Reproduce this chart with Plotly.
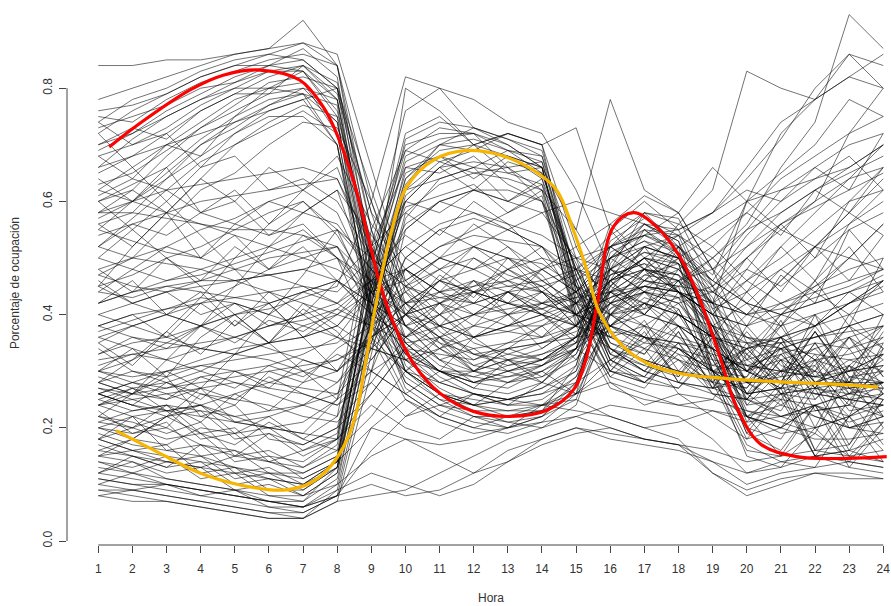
import plotly.graph_objects as go

hours = list(range(1, 25))

# Occupancy profiles (percent), one row per unit
cluster_a = [
    [70,72,76,79,82,84,85,80,45,30,25,22,22,23,28,45,52,44,32,22,15,19,15,21],
    [62,66,70,74,78,80,81,72,40,28,24,23,21,22,27,40,47,49,30,20,26,15,22,16],
    [75,74,78,81,83,85,86,84,50,32,27,24,25,26,30,50,55,50,38,22,20,28,17,25],
    [55,60,65,70,74,77,79,70,42,33,30,27,26,28,33,44,40,46,35,25,32,20,22,34],
    [68,70,73,77,80,83,83,75,38,26,22,20,19,21,26,48,58,52,30,15,13,20,14,13],
    [84,84,85,85,86,87,88,84,55,35,30,28,29,31,35,52,56,53,40,28,36,25,31,28],
    [58,62,68,73,76,79,80,78,48,30,26,25,24,24,29,38,44,42,34,20,18,27,16,18],
    [72,76,79,82,84,86,85,80,52,38,32,28,27,30,34,55,60,55,42,24,30,16,25,17],
    [50,55,60,66,72,76,78,70,36,25,21,19,20,22,25,41,46,45,28,16,15,24,13,20],
    [65,68,72,76,79,82,84,78,44,30,26,24,22,23,31,50,53,49,33,19,27,15,16,25],
    [78,80,82,84,86,87,92,84,60,42,35,30,28,31,36,53,57,54,41,30,27,35,26,28],
    [45,52,58,64,70,73,76,72,40,32,28,26,25,27,30,42,48,47,36,22,19,20,31,22],
    [60,63,66,71,75,78,79,74,46,34,29,26,24,25,29,44,52,50,37,21,28,16,17,27],
    [73,75,77,80,81,83,84,79,58,40,34,30,29,30,33,47,51,50,39,25,23,32,20,22],
    [66,71,75,78,80,80,79,77,42,27,23,21,20,22,28,46,55,51,29,17,14,13,22,14],
    [52,57,62,67,70,74,77,75,53,36,31,29,28,29,32,43,47,46,38,26,34,23,24,35],
    [76,77,79,82,84,84,83,78,49,31,26,23,23,24,27,49,56,53,34,19,16,24,15,16],
    [63,65,69,73,77,81,82,80,62,45,38,33,31,32,36,52,58,57,45,32,28,37,28,40],
    [57,60,64,68,72,75,75,70,39,29,25,24,23,23,26,38,43,41,30,18,25,15,14,21],
    [69,72,75,78,81,84,87,82,47,33,28,26,25,27,31,51,54,51,36,23,21,19,29,20],
    [61,64,70,68,75,80,83,76,50,38,32,34,30,28,34,47,49,44,36,26,22,24,21,23],
    [70,73,71,76,79,79,84,81,55,41,36,31,33,35,38,56,61,58,48,35,30,38,30,33],
    [47,50,56,62,65,70,74,73,60,44,37,33,32,31,34,45,50,49,42,33,29,30,40,34],
    [74,78,80,83,85,86,88,86,66,46,40,35,33,32,35,48,52,50,43,31,26,22,20,21],
    [56,58,64,70,73,77,80,74,43,28,24,22,21,20,24,40,45,43,32,22,20,18,18,19],
]

cluster_b = [
    [20,22,16,17,12,13,10,14,45,65,68,66,69,68,45,32,36,29,38,28,33,27,36,27],
    [25,23,24,19,20,15,14,18,50,70,72,72,70,66,42,30,29,37,27,34,28,40,27,25],
    [15,14,12,13,9,10,8,12,40,60,66,62,67,65,48,35,33,41,30,29,39,28,28,37],
    [28,26,29,22,24,18,17,20,42,62,64,66,60,63,40,29,34,26,25,33,26,25,31,26],
    [12,11,10,8,9,6,6,10,38,63,70,73,71,68,50,33,31,38,29,27,35,28,27,22],
    [22,21,19,21,15,16,13,17,48,72,75,70,72,70,44,31,38,28,36,28,29,37,29,30],
    [18,16,17,12,13,9,9,13,46,68,71,72,66,67,47,34,30,35,28,38,31,29,36,29],
    [30,28,26,27,21,22,18,22,52,66,68,64,68,64,41,30,28,33,27,25,32,26,25,31],
    [9,9,8,7,6,5,4,9,35,58,63,65,64,62,46,32,29,27,33,24,25,31,23,24],
    [24,22,23,18,19,14,13,16,44,64,69,70,65,66,43,33,39,30,29,37,30,31,38,29],
    [14,13,15,11,12,8,7,11,37,61,66,67,66,60,49,36,33,40,31,30,38,29,31,36],
    [27,25,23,24,19,20,16,19,47,67,70,71,69,67,45,31,28,27,34,26,27,35,27,28],
    [17,15,13,14,10,11,8,12,41,80,76,70,68,66,42,30,37,28,27,35,26,27,34,26],
    [20,19,21,15,16,12,12,15,43,59,61,63,58,61,39,29,27,34,28,27,35,28,30,38],
    [11,10,9,8,7,6,5,8,33,57,64,66,65,63,48,35,32,30,37,26,27,33,25,24],
    [26,24,22,23,18,19,15,18,49,69,73,72,69,65,46,32,29,35,26,25,33,27,28,34],
    [16,15,14,15,11,12,9,13,39,62,67,69,68,66,44,34,31,29,36,28,28,37,29,28],
    [21,20,18,19,14,15,11,14,45,71,74,73,71,69,47,33,30,37,27,29,36,27,26,33],
    [23,19,20,17,16,14,12,15,44,60,58,62,60,64,48,38,36,33,31,34,36,32,30,33],
    [12,14,11,10,9,7,7,13,42,66,65,68,63,60,40,28,26,24,23,21,22,23,24,22],
    [29,27,23,24,21,20,19,25,55,69,67,65,66,62,38,27,25,24,25,23,22,24,26,25],
    [19,17,16,15,13,11,10,13,40,64,70,69,72,70,52,40,36,34,32,31,33,35,34,36],
    [8,7,7,6,5,4,4,7,30,55,60,62,62,60,45,34,30,28,26,25,26,27,25,26],
]

cluster_c = [
    [35,38,40,42,45,48,50,52,40,45,48,50,47,45,40,38,42,45,50,55,58,62,65,68],
    [28,30,29,31,30,28,27,26,38,50,55,52,48,45,40,45,50,48,42,60,65,70,78,75],
    [45,47,50,52,55,58,60,55,42,38,40,42,44,41,38,48,52,50,45,50,55,60,72,80],
    [40,38,36,34,33,32,30,28,36,42,44,45,46,44,40,43,45,44,40,38,42,45,48,50],
    [55,53,51,50,48,47,45,42,38,35,36,38,37,36,40,46,48,46,42,46,50,55,60,62],
    [30,32,35,38,40,42,44,46,42,38,35,33,34,35,37,42,44,43,38,35,36,38,40,42],
    [48,50,52,55,57,60,62,58,45,55,60,58,55,52,45,42,44,46,48,55,62,66,70,72],
    [25,27,28,30,33,35,38,40,44,35,30,28,30,32,34,40,42,40,36,30,32,34,36,38],
    [62,60,58,56,54,52,50,48,44,40,38,36,38,40,42,44,46,45,44,50,56,60,64,66],
    [38,36,35,34,36,38,40,42,46,52,48,44,42,40,38,36,38,42,44,48,45,50,55,58],
    [8,9,10,9,8,7,6,8,20,25,22,20,22,24,25,22,20,21,23,22,24,22,20,19],
    [13,12,11,10,9,8,8,10,15,18,17,18,20,21,22,20,18,17,16,14,15,16,15,14],
    [24,25,26,24,22,20,21,25,38,30,28,30,32,33,35,38,40,38,30,25,22,20,22,24],
    [32,33,34,35,36,38,39,41,46,48,44,42,40,41,43,47,49,47,41,44,48,52,56,60],
    [42,44,46,48,50,52,55,50,36,30,34,38,40,42,44,50,53,51,46,42,40,38,42,46],
    [18,20,22,24,26,28,30,32,35,30,26,24,25,26,28,32,35,34,30,26,27,28,30,31],
    [58,58,57,56,55,55,54,52,46,42,43,44,45,46,48,52,54,52,47,60,72,78,82,86],
    [27,26,25,27,28,27,26,24,30,34,33,32,34,35,36,37,36,35,34,40,46,52,58,64],
    [34,30,28,26,25,24,22,21,28,36,40,44,42,40,38,34,32,30,28,34,40,45,50,56],
    [50,48,46,47,49,51,53,55,48,40,36,34,35,36,38,42,45,48,52,58,64,68,72,75],
    [44,43,45,44,43,42,44,46,40,36,38,40,42,41,44,50,52,54,58,62,60,64,66,70],
    [31,33,32,34,33,35,36,38,44,46,50,48,45,44,42,40,41,43,45,52,56,59,62,65],
    [52,50,49,48,46,44,42,40,38,42,46,48,50,49,45,40,38,36,34,30,28,26,25,24],
    [37,39,41,43,42,40,38,36,34,32,30,30,32,34,38,44,48,47,42,36,32,30,28,27],
    [21,23,24,23,22,23,24,26,32,40,44,46,44,42,40,38,36,35,33,31,30,29,28,28],
    [47,45,44,46,48,50,51,52,42,33,30,29,31,33,36,41,44,42,36,31,30,29,30,31],
    [26,24,23,22,21,20,19,18,26,34,38,40,41,42,43,44,45,44,42,40,41,43,45,48],
    [54,56,58,60,61,62,63,64,52,42,38,36,37,39,42,48,51,49,44,40,42,44,46,48],
]

cluster_d = [
    [22,26,32,38,45,52,58,62,45,35,30,28,30,32,36,44,48,46,38,28,25,24,26,27],
    [60,55,50,45,40,35,30,25,30,45,50,52,50,47,40,36,34,32,30,32,34,36,38,40],
    [28,32,37,43,50,56,62,66,50,38,34,31,30,31,34,46,50,48,40,30,27,26,27,28],
    [72,66,60,54,48,42,36,30,35,50,55,57,55,52,42,34,30,28,27,28,30,32,33,35],
    [15,18,22,27,33,40,47,55,50,45,42,40,38,38,40,43,45,44,40,36,34,33,32,33],
    [45,42,40,38,36,34,32,30,36,40,42,44,46,48,50,48,46,44,42,40,38,40,42,44],
    [26,28,27,29,30,31,33,36,44,56,60,62,60,58,50,42,40,38,36,35,34,36,38,40],
    [36,34,32,30,28,26,24,22,34,48,52,54,53,52,48,44,42,40,36,34,36,38,42,46],
]

cluster_n = [
    [30,34,29,36,40,35,42,38,45,40,47,43,50,44,38,46,41,52,45,38,47,42,55,48],
    [56,52,58,50,54,48,52,46,40,36,42,38,44,40,35,42,48,40,36,44,38,46,52,44],
    [18,22,20,26,24,30,28,34,38,32,36,30,34,38,32,40,36,44,38,32,40,46,38,50],
    [64,60,66,58,62,56,60,54,44,48,42,46,40,44,38,46,50,44,40,48,56,50,60,66],
    [26,24,28,25,30,27,32,30,36,42,38,44,40,36,42,46,40,48,42,50,44,52,46,54],
    [42,46,40,44,38,42,36,40,46,38,42,36,40,34,38,44,40,46,50,44,52,46,56,62],
    [12,15,13,17,15,19,17,20,26,34,30,36,32,28,34,30,36,32,28,22,26,30,24,28],
    [35,31,37,33,39,35,41,37,30,26,30,27,32,29,34,38,35,40,36,33,38,44,40,46],
    [74,70,72,66,68,62,64,60,50,40,36,32,35,38,42,50,46,52,44,40,46,52,58,54],
    [22,20,24,21,26,23,28,30,40,48,44,50,46,42,46,52,48,44,40,46,52,58,64,70],
    [48,44,50,46,52,48,54,50,44,36,32,30,34,32,36,40,44,38,34,30,36,32,38,34],
    [16,18,17,20,19,22,24,28,34,40,46,42,48,44,40,36,42,38,34,30,34,28,32,30],
    [38,40,36,42,38,44,40,46,52,58,54,60,56,50,44,38,42,36,30,34,28,32,26,30],
    [60,62,58,64,60,66,62,68,56,48,44,40,44,48,52,56,50,54,48,52,58,62,66,70],
    [28,26,30,27,25,29,26,24,28,22,26,24,28,30,26,32,28,34,30,26,30,34,28,32],
    [44,48,52,50,56,54,58,56,48,42,46,44,48,52,46,50,56,52,46,54,60,66,62,72],
    [20,18,22,19,17,21,18,16,22,30,36,40,44,40,36,42,38,34,30,28,24,28,22,26],
    [52,56,54,58,56,60,58,62,54,46,50,48,52,46,42,48,44,50,46,42,48,44,50,56],
    [33,36,34,38,35,39,37,41,38,44,40,46,42,48,44,52,48,56,52,46,42,38,44,40],
    [24,27,25,29,27,31,29,33,30,26,22,26,24,28,26,30,28,32,26,22,20,24,20,22],
    [68,64,62,58,60,54,56,50,42,36,40,36,38,42,40,46,50,44,38,42,36,40,34,38],
    [10,12,14,13,15,14,16,18,24,20,18,22,20,24,26,28,24,26,22,18,20,24,22,26],
    [46,42,44,40,42,38,40,36,32,40,46,52,50,46,42,38,34,38,34,30,34,30,36,32],
    [36,38,40,38,42,40,44,42,48,54,50,56,52,48,44,40,46,50,54,58,54,62,58,66],
]

cluster_peaks = [
    [33,35,36,38,40,41,43,45,60,82,80,73,70,66,55,45,42,40,38,36,35,36,37,38],
    [40,42,44,45,46,47,48,46,42,48,52,55,58,62,55,78,62,58,48,42,40,42,44,46],
    [66,68,70,72,74,76,78,80,58,50,46,44,42,44,48,54,58,56,62,83,80,78,86,80],
    [58,60,62,63,64,65,66,64,50,45,43,42,44,45,47,52,55,54,50,56,66,74,93,87],
    [42,44,45,46,46,47,48,50,46,52,56,58,56,54,50,52,54,55,58,64,71,80,86,84],
    [30,29,30,31,32,33,34,35,40,44,48,52,55,58,60,58,56,55,58,66,74,78,82,80],
    [24,26,27,28,29,30,31,32,36,40,42,45,48,50,48,46,48,52,56,60,62,64,68,62],
    [15,16,15,14,13,12,11,14,52,76,80,78,74,72,62,48,44,40,36,34,35,38,42,45],
    [38,40,41,42,43,44,45,44,50,60,66,70,72,70,73,55,48,44,40,38,40,42,44,47],
    [26,28,30,32,34,35,36,38,34,32,34,36,38,40,44,48,54,58,66,60,55,52,50,48],
]

cluster_low = [
    [9,8,7,6,5,4,4,7,8,9,12,15,18,20,22,24,23,22,18,12,14,15,13,12],
    [14,12,10,9,8,7,6,9,12,10,8,10,14,18,20,18,17,16,14,10,12,13,14,13],
    [18,16,14,13,12,11,10,14,20,18,15,12,14,17,19,20,18,17,14,12,13,15,16,14],
    [10,9,8,7,6,5,5,8,16,22,24,26,25,24,23,22,20,18,12,9,11,12,11,11],
    [11,10,10,9,8,7,6,8,10,8,9,12,16,18,20,19,18,17,12,8,10,12,12,11],
]

# Smoothed cluster profiles
red_x = [1.32, 2.22, 3.69, 4.66, 5.74, 6.91, 7.59, 7.94, 8.47, 8.86, 9.25, 9.65,
         10.23, 11.01, 11.99, 13.06, 14.14, 14.92, 15.31, 15.62, 16.09, 16.68,
         17.36, 18.04, 18.63, 19.21, 19.70, 20.39, 21.46, 22.93, 24.1]
red_y = [0.696, 0.738, 0.797, 0.823, 0.832, 0.814, 0.767, 0.726, 0.638, 0.549,
         0.455, 0.385, 0.314, 0.261, 0.229, 0.220, 0.231, 0.267, 0.326, 0.420,
         0.555, 0.580, 0.555, 0.502, 0.426, 0.326, 0.237, 0.172, 0.149, 0.146, 0.149]

orange_x = [1.52, 2.71, 3.98, 5.15, 6.42, 7.20, 7.79, 8.28, 8.57, 8.86, 9.25,
            9.65, 10.04, 10.82, 11.79, 12.77, 13.75, 14.43, 14.92, 15.31, 15.65,
            16.29, 17.07, 18.04, 19.41, 20.97, 22.54, 23.85]
orange_y = [0.195, 0.158, 0.120, 0.099, 0.090, 0.102, 0.131, 0.178, 0.230, 0.326,
            0.455, 0.561, 0.626, 0.673, 0.690, 0.682, 0.655, 0.620, 0.549, 0.479,
            0.408, 0.349, 0.314, 0.296, 0.287, 0.281, 0.277, 0.272]

y_ticks = [0.0, 0.2, 0.4, 0.6, 0.8]
y_tick_labels = ["0.0", "0.2", "0.4", "0.6", "0.8"]

fig = go.Figure()

all_rows = cluster_a + cluster_b + cluster_c + cluster_d + cluster_n + cluster_peaks + cluster_low
for row in all_rows:
    fig.add_trace(go.Scatter(
        x=hours, y=[v / 100 for v in row], mode="lines",
        line=dict(color="rgba(0,0,0,0.55)", width=1),
        hoverinfo="skip", showlegend=False))

fig.add_trace(go.Scatter(x=red_x, y=red_y, mode="lines",
                         line=dict(color="#FF0000", width=3.2, shape="spline", smoothing=1.0),
                         showlegend=False))
fig.add_trace(go.Scatter(x=orange_x, y=orange_y, mode="lines",
                         line=dict(color="#F7B500", width=3.2, shape="spline", smoothing=1.0),
                         showlegend=False))

axis_color = "#444444"
font = dict(family="Liberation Sans, Arial, sans-serif", size=12, color="#333333")

fig.update_layout(
    width=891, height=606,
    margin=dict(l=67, r=0, t=0, b=61, autoexpand=False),
    paper_bgcolor="white", plot_bgcolor="white",
    font=font,
    showlegend=False,
    xaxis=dict(range=[0.083, 24.226], tickmode="array", tickvals=hours,
               ticktext=[str(h) for h in hours], automargin=False,
               ticks="outside", ticklen=7, tickwidth=1, tickcolor=axis_color,
               ticklabelstandoff=6,
               showline=False, showgrid=False, zeroline=False, tickfont=font),
    yaxis=dict(range=[-0.00707, 0.9558], tickmode="array", tickvals=y_ticks,
               ticktext=y_tick_labels, tickangle=-90, automargin=False,
               ticks="outside", ticklen=7, tickwidth=1, tickcolor=axis_color,
               ticklabelstandoff=2,
               showline=False, showgrid=False, zeroline=False, tickfont=font),
    shapes=[
        dict(type="line", xref="x", yref="paper", x0=1, x1=24, y0=0, y1=0,
             line=dict(color=axis_color, width=1)),
        dict(type="line", xref="paper", yref="y", x0=0, x1=0, y0=0, y1=0.8,
             line=dict(color=axis_color, width=1)),
    ],
    annotations=[
        dict(text="Hora", xref="paper", yref="paper", x=0.514, y=-0.097,
             xanchor="center", yanchor="middle", showarrow=False, font=font),
        dict(text="Porcentaje de ocupación", xref="paper", yref="paper",
             x=-0.063, y=0.4807, textangle=-90, xanchor="center", yanchor="middle",
             showarrow=False, font=font),
    ],
)

fig.write_html("out.html", config={"displayModeBar": False},
               post_script="document.body.style.margin='0px';document.body.style.overflow='hidden';")
